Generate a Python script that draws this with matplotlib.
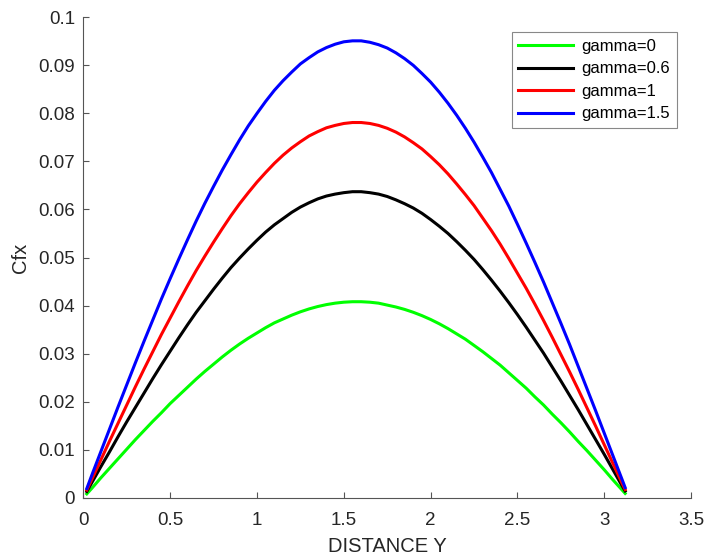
import numpy as np
import matplotlib
matplotlib.use('Agg')
import matplotlib.pyplot as plt

plt.rcParams['font.family'] = ['Liberation Sans', 'DejaVu Sans']

# distance along Y
y = [0.02, 0.05, 0.1, 0.15, 0.2, 0.25, 0.3, 0.35, 0.4, 0.45, 0.5, 0.55, 0.6, 0.65, 0.7, 0.75,
     0.8, 0.85, 0.9, 0.95, 1.0, 1.05, 1.1, 1.15, 1.2, 1.25, 1.3, 1.35, 1.4, 1.45, 1.5, 1.55,
     1.6, 1.65, 1.7, 1.75, 1.8, 1.85, 1.9, 1.95, 2.0, 2.05, 2.1, 2.15, 2.2, 2.25, 2.3, 2.35,
     2.4, 2.45, 2.5, 2.55, 2.6, 2.65, 2.7, 2.75, 2.8, 2.85, 2.9, 2.95, 3.0, 3.05, 3.1, 3.12]

cfx_g0 = [0.0008, 0.0020, 0.0041, 0.0061, 0.0081, 0.0101, 0.0121, 0.0140, 0.0159, 0.0177,
          0.0196, 0.0213, 0.0230, 0.0247, 0.0263, 0.0278, 0.0293, 0.0307, 0.0320, 0.0332,
          0.0343, 0.0354, 0.0364, 0.0372, 0.0380, 0.0387, 0.0393, 0.0398, 0.0402, 0.0405,
          0.0407, 0.0408, 0.0408, 0.0407, 0.0405, 0.0401, 0.0397, 0.0392, 0.0386, 0.0379,
          0.0371, 0.0362, 0.0352, 0.0341, 0.0330, 0.0317, 0.0304, 0.0290, 0.0276, 0.0260,
          0.0244, 0.0228, 0.0210, 0.0193, 0.0174, 0.0156, 0.0137, 0.0117, 0.0098, 0.0078,
          0.0058, 0.0037, 0.0017, 0.0009]
cfx_g06 = [0.0013, 0.0032, 0.0064, 0.0095, 0.0127, 0.0158, 0.0188, 0.0218, 0.0248, 0.0277,
           0.0305, 0.0333, 0.0360, 0.0386, 0.0410, 0.0434, 0.0457, 0.0479, 0.0499, 0.0518,
           0.0536, 0.0553, 0.0568, 0.0581, 0.0594, 0.0605, 0.0614, 0.0622, 0.0628, 0.0632,
           0.0635, 0.0637, 0.0637, 0.0635, 0.0632, 0.0627, 0.0620, 0.0612, 0.0603, 0.0592,
           0.0579, 0.0565, 0.0550, 0.0533, 0.0515, 0.0496, 0.0475, 0.0453, 0.0430, 0.0406,
           0.0381, 0.0355, 0.0328, 0.0301, 0.0272, 0.0243, 0.0213, 0.0183, 0.0152, 0.0121,
           0.0090, 0.0058, 0.0026, 0.0014]
cfx_g1 = [0.0016, 0.0039, 0.0078, 0.0117, 0.0155, 0.0193, 0.0231, 0.0268, 0.0304, 0.0340,
          0.0374, 0.0408, 0.0441, 0.0473, 0.0503, 0.0532, 0.0560, 0.0587, 0.0612, 0.0635,
          0.0657, 0.0677, 0.0696, 0.0713, 0.0728, 0.0741, 0.0753, 0.0762, 0.0770, 0.0775,
          0.0779, 0.0781, 0.0781, 0.0779, 0.0775, 0.0769, 0.0761, 0.0751, 0.0739, 0.0726,
          0.0710, 0.0693, 0.0674, 0.0653, 0.0631, 0.0608, 0.0582, 0.0556, 0.0528, 0.0498,
          0.0467, 0.0436, 0.0403, 0.0369, 0.0334, 0.0298, 0.0262, 0.0225, 0.0187, 0.0149,
          0.0110, 0.0071, 0.0032, 0.0017]
cfx_g15 = [0.0019, 0.0048, 0.0095, 0.0142, 0.0189, 0.0235, 0.0281, 0.0326, 0.0370, 0.0414,
           0.0456, 0.0497, 0.0537, 0.0576, 0.0613, 0.0648, 0.0682, 0.0714, 0.0745, 0.0774,
           0.0800, 0.0825, 0.0848, 0.0868, 0.0886, 0.0903, 0.0916, 0.0928, 0.0937, 0.0944,
           0.0949, 0.0951, 0.0951, 0.0948, 0.0943, 0.0936, 0.0926, 0.0914, 0.0900, 0.0883,
           0.0865, 0.0844, 0.0821, 0.0796, 0.0769, 0.0740, 0.0709, 0.0677, 0.0642, 0.0607,
           0.0569, 0.0530, 0.0490, 0.0449, 0.0406, 0.0363, 0.0319, 0.0273, 0.0227, 0.0181,
           0.0134, 0.0087, 0.0040, 0.0021]

labels = ['gamma=0', 'gamma=0.6', 'gamma=1', 'gamma=1.5']
colors = ['#00ff00', 'k', '#ff0000', '#0000ff']

fig = plt.figure(figsize=(7.06, 5.58), dpi=100)
ax = fig.add_axes([0.118, 0.108, 0.861, 0.861])

for vals, lab, c in zip([cfx_g0, cfx_g06, cfx_g1, cfx_g15], labels, colors):
    ax.plot(y, vals, color=c, lw=2.2, label=lab, solid_joinstyle='round')

ax.set_xlim(0, 3.5)
ax.set_ylim(0, 0.1)
ax.set_xticks(np.arange(0, 3.51, 0.5))
ax.set_xticklabels(['0', '0.5', '1', '1.5', '2', '2.5', '3', '3.5'])
ax.set_yticks(np.arange(0, 0.101, 0.01))
ax.set_yticklabels(['0', '0.01', '0.02', '0.03', '0.04', '0.05', '0.06', '0.07', '0.08', '0.09', '0.1'])

for s in ['top', 'right']:
    ax.spines[s].set_visible(False)
for s in ['left', 'bottom']:
    ax.spines[s].set_color('#555555')
    ax.spines[s].set_linewidth(0.8)
ax.tick_params(direction='in', length=4, width=0.8, color='#555555',
               labelcolor='#262626', labelsize=13.5)
ax.tick_params(axis='x', pad=10)
ax.tick_params(axis='y', pad=6)

ax.set_xlabel('DISTANCE Y', fontsize=14.5, color='#262626', labelpad=6)
ax.set_ylabel('Cfx', fontsize=14.5, color='#262626', labelpad=6)

leg = ax.legend(loc='upper right', bbox_to_anchor=(0.9765, 0.9688), borderaxespad=0,
                fontsize=12, handlelength=3.3, fancybox=False, framealpha=1,
                edgecolor='#888888', labelspacing=0.45, borderpad=0.4, handletextpad=0.5)
leg.get_frame().set_linewidth(0.8)

fig.savefig('out.png', dpi=100)
